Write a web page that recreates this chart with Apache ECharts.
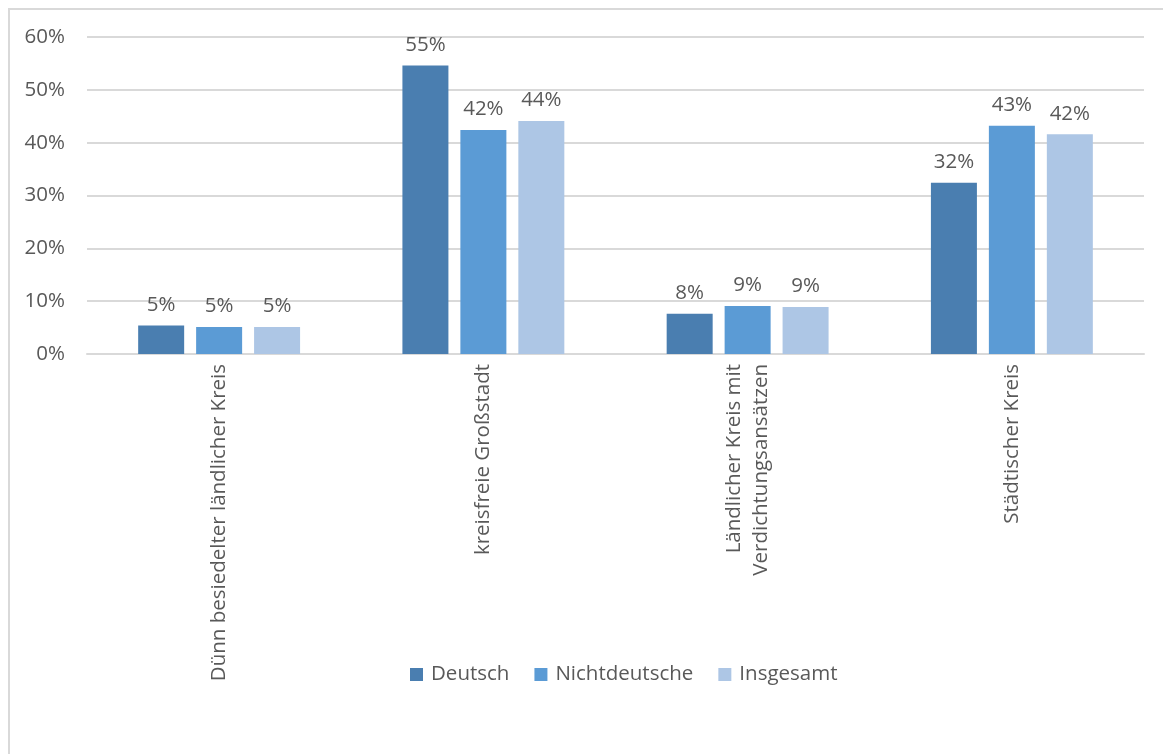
<!DOCTYPE html>
<html><head><meta charset="utf-8">
<script src="https://cdn.jsdelivr.net/npm/echarts@6/dist/echarts.min.js"></script>
<style>html,body{margin:0;padding:0;background:#fff;}#c{width:1163px;height:754px;}</style>
</head><body><div id="c"></div>
<script>
const categories = ['Dünn besiedelter ländlicher Kreis', 'kreisfreie Großstadt', 'Ländlicher Kreis mit\nVerdichtungsansätzen', 'Städtischer Kreis'];
const deutsch = [5.4, 54.6, 7.6, 32.4];
const nichtdeutsche = [5.1, 42.4, 9.1, 43.2];
const insgesamt = [5.1, 44.1, 8.9, 41.6];
const yTicks = [0, 10, 20, 30, 40, 50, 60];

const font = '"Open Sans", "Noto Sans", sans-serif';
const txt = '#595959';
function mk(name, data, color) {
  return {
    name, type: 'bar', data, barWidth: 46, barGap: '26%',
    itemStyle: { color },
    label: { show: true, position: 'top', distance: 10, color: txt, fontSize: 20.5, fontFamily: font,
      formatter: p => Math.round(p.value) + '%' }
  };
}
const chart = echarts.init(document.getElementById('c'));
chart.setOption({
  animation: false,
  graphic: [{ type: 'rect', shape: { x: 9, y: 9, width: 1300, height: 900 }, style: { fill: 'none', stroke: '#d9d9d9', lineWidth: 2 } }],
  grid: { left: 87, right: 19, top: 37, bottom: 400 },
  legend: { bottom: 64, left: 405, itemWidth: 13, itemHeight: 13, itemGap: 25,
    icon: 'rect', textStyle: { color: txt, fontSize: 20.5, fontFamily: font, padding: [0, 0, 0, 3] } },
  xAxis: { type: 'category', data: categories,
    axisLine: { lineStyle: { color: '#d9d9d9', width: 2 } }, axisTick: { show: false },
    axisLabel: { rotate: 90, color: txt, fontSize: 20.5, fontFamily: font, margin: 10, lineHeight: 27, interval: 0 } },
  yAxis: { type: 'value', min: yTicks[0], max: yTicks[yTicks.length - 1], interval: 10,
    axisLabel: { formatter: v => v + '%', color: txt, fontSize: 20.5, fontFamily: font, margin: 22 },
    axisLine: { show: false }, axisTick: { show: false },
    splitLine: { lineStyle: { color: '#d9d9d9', width: 2 } } },
  series: [mk('Deutsch', deutsch, '#4a7eb0'), mk('Nichtdeutsche', nichtdeutsche, '#5b9bd5'), mk('Insgesamt', insgesamt, '#adc6e5')]
});
</script></body></html>
